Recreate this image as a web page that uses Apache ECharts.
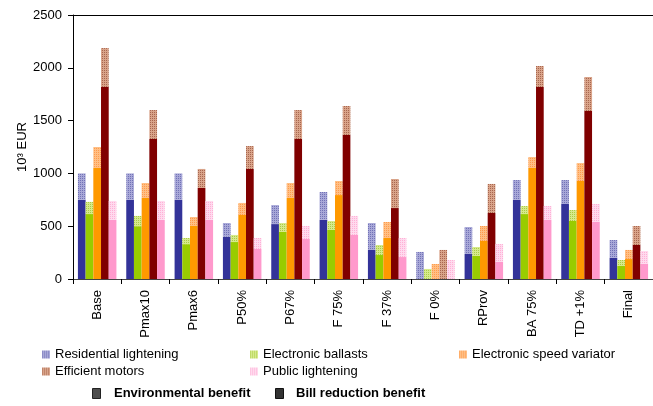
<!DOCTYPE html>
<html>
<head>
<meta charset="utf-8">
<style>
  html, body { margin: 0; padding: 0; background: #fff; }
  #chart { width: 653px; height: 406px; }
</style>
<script src="https://cdn.jsdelivr.net/npm/echarts@6/dist/echarts.min.js"></script>
</head>
<body>
<div id="chart"></div>
<script>
// Scenario names along the category axis
const categories = ['Base', 'Pmax10', 'Pmax6', 'P50%', 'P67%', 'F 75%', 'F 37%', 'F 0%', 'RProv', 'BA 75%', 'TD +1%', 'Final'];

// Measures (one bar column per measure in each scenario)
const measures = ['Residential lightening', 'Electronic ballasts', 'Electronic speed variator', 'Efficient motors', 'Public lightening'];

// Bill reduction benefit, 10^3 EUR
const billResidential = [750, 750, 750, 400, 520, 560, 275, 0, 237, 750, 710, 200];
const billBallasts    = [615, 500, 330, 350, 445, 464, 227, 0, 218, 615, 549, 123];
const billVariator    = [1051, 767, 502, 606, 767, 795, 388, 0, 360, 1051, 928, 189];
const billMotors      = [1818, 1326, 862, 1042, 1326, 1364, 672, 0, 625, 1818, 1591, 322];
const billPublic      = [559, 559, 559, 284, 379, 417, 208, 0, 161, 559, 540, 142];

// Environmental benefit, 10^3 EUR (stacked on top of the bill reduction)
const envResidential = [250, 250, 250, 130, 180, 264, 255, 256, 255, 187, 227, 169];
const envBallasts    = [115, 97, 58, 67, 85, 85, 95, 95, 85, 76, 104, 57];
const envVariator    = [199, 142, 85, 114, 142, 133, 152, 142, 142, 104, 170, 86];
const envMotors      = [369, 274, 180, 217, 274, 274, 275, 275, 275, 199, 322, 180];
const envPublic      = [180, 180, 180, 104, 123, 180, 180, 180, 170, 132, 170, 123];

// Value axis ticks
const yTicks = [0, 500, 1000, 1500, 2000, 2500];

const bills = [billResidential, billBallasts, billVariator, billMotors, billPublic];
const envs = [envResidential, envBallasts, envVariator, envMotors, envPublic];

const solidColors = ['#333399', '#99cc00', '#ff9900', '#800000', '#ff99cc'];
const patternBase = ['#a8a8d8', '#d6ea8c', '#ffbf85', '#d9a48a', '#ffdaee'];
const patternDot  = ['#7272b6', '#abcc44', '#ff9b4c', '#a8664f', '#ffb0d6'];

const FONT = 'Liberation Sans, Arial, sans-serif';

// Small dotted tile used as a fill for the environmental part
function makePattern(base, dot) {
  const c = document.createElement('canvas');
  c.width = 2; c.height = 2;
  const g = c.getContext('2d');
  g.fillStyle = base; g.fillRect(0, 0, 2, 2);
  g.fillStyle = dot;
  g.fillRect(0, 0, 1, 1);
  return { image: c, repeat: 'repeat' };
}

// Grid tile for the environmental-benefit key
function gridTile() {
  const c = document.createElement('canvas');
  c.width = 2; c.height = 2;
  const g = c.getContext('2d');
  g.fillStyle = '#d0d0d0'; g.fillRect(0, 0, 2, 2);
  g.fillStyle = '#222222';
  g.fillRect(0, 0, 2, 1);
  g.fillRect(0, 0, 1, 2);
  return { image: c, repeat: 'repeat' };
}

const series = [];
measures.forEach((name, i) => {
  series.push({
    name: name + ' (bill)',
    type: 'bar',
    stack: 'm' + i,
    data: bills[i],
    barWidth: 7.7,
    barGap: '0%',
    itemStyle: { color: solidColors[i] },
    emphasis: { disabled: true }
  });
  series.push({
    name: name,
    type: 'bar',
    stack: 'm' + i,
    data: envs[i],
    barWidth: 7.7,
    barGap: '0%',
    itemStyle: { color: makePattern(patternBase[i], patternDot[i]) },
    emphasis: { disabled: true }
  });
});

const legendFont = { fontFamily: FONT, fontSize: 13, color: '#000' };
const legendPos = [
  { left: 42, top: 348 },
  { left: 250, top: 348 },
  { left: 459, top: 348 },
  { left: 42, top: 365 },
  { left: 250, top: 365 }
];
const legends = measures.map((m, i) => ({
  data: [m],
  left: legendPos[i].left,
  top: legendPos[i].top,
  icon: 'rect',
  itemWidth: 8,
  itemHeight: 8,
  itemGap: 4,
  padding: 0,
  selectedMode: false,
  textStyle: legendFont
}));

const chart = echarts.init(document.getElementById('chart'), null, { renderer: 'canvas' });
chart.setOption({
  animation: false,
  backgroundColor: '#ffffff',
  grid: { left: 73, top: 15, right: -4, bottom: 127, containLabel: false },
  xAxis: [{
    type: 'category',
    data: categories,
    axisLine: { lineStyle: { color: '#444', width: 1 } },
    axisTick: { show: true, inside: false, length: 5, lineStyle: { color: '#000' } },
    axisLabel: {
      rotate: 90,
      margin: 11,
      fontFamily: FONT,
      fontSize: 13,
      color: '#000',
      interval: 0
    }
  }, {
    type: 'category',
    data: categories,
    position: 'top',
    axisLine: { show: true, lineStyle: { color: '#000', width: 1 } },
    axisTick: { show: false },
    axisLabel: { show: false }
  }],
  yAxis: {
    type: 'value',
    min: yTicks[0],
    max: yTicks[yTicks.length - 1],
    interval: 500,
    name: '10³ EUR',
    nameLocation: 'middle',
    nameGap: 44,
    nameMoveOverlap: false,
    nameRotate: 90,
    nameTextStyle: { fontFamily: FONT, fontSize: 13, color: '#000' },
    axisLine: { show: true, lineStyle: { color: '#000', width: 1 } },
    axisTick: { show: true, inside: false, length: 5, lineStyle: { color: '#000' } },
    axisLabel: {
      margin: 11, fontFamily: FONT, fontSize: 13, color: '#000',
      formatter: v => String(v)
    },
    splitLine: { show: false }
  },
  legend: legends,
  series: series,
  graphic: [
    { type: 'rect', left: 92, top: 388, shape: { width: 8, height: 10 },
      style: { fill: gridTile(), stroke: '#222', lineWidth: 1 } },
    { type: 'text', left: 114, top: 387,
      style: { text: 'Environmental benefit', fill: '#000', font: 'bold 13px "Liberation Sans", Arial, sans-serif' } },
    { type: 'rect', left: 275, top: 388, shape: { width: 8, height: 10 },
      style: { fill: '#333333', stroke: '#111', lineWidth: 1 } },
    { type: 'text', left: 296, top: 387,
      style: { text: 'Bill reduction benefit', fill: '#000', font: 'bold 13px "Liberation Sans", Arial, sans-serif' } }
  ]
});
</script>
</body>
</html>
